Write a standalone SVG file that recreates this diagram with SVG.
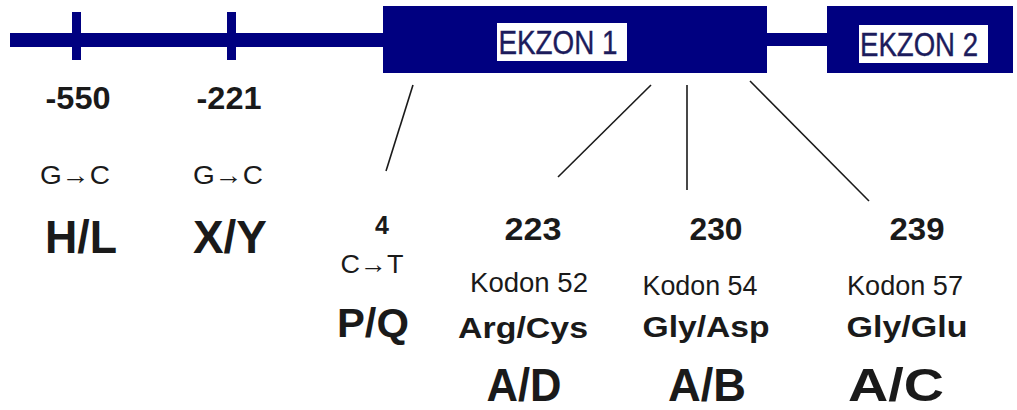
<svg xmlns="http://www.w3.org/2000/svg" width="1017" height="410" viewBox="0 0 1017 410">
  <style>
    .dna { fill: #000080; }
    .tag { fill: #ffffff; }
    .exon-label { font-family: "Liberation Sans", Arial, sans-serif; font-size: 34px; fill: #1c1c5c; stroke: #1c1c5c; stroke-width: 0.4; text-anchor: middle; }
    .t { font-family: "Liberation Sans", Arial, sans-serif; fill: #1a1a1a; text-anchor: middle; }
    .pos { font-size: 31px; font-weight: bold; }
    .subst { font-size: 26px; }
    .allele { font-size: 46px; font-weight: bold; }
    .codon { font-size: 27px; }
    .aa { font-size: 29px; font-weight: bold; }
    .big { font-size: 47px; font-weight: bold; }
    .link { stroke: #1a1a1a; stroke-width: 1.6; fill: none; }
  </style>

  <rect width="1017" height="410" fill="#ffffff"/>

  <!-- gene backbone with promoter sites and exons -->
  <g id="gene">
    <rect class="dna" x="10" y="33" width="375" height="14"/>
    <rect class="dna" x="72" y="12" width="9" height="48"/>
    <rect class="dna" x="227" y="12" width="9" height="48"/>
    <rect class="dna" x="765" y="33" width="64" height="13"/>
  </g>

  <g id="exon1">
    <rect class="dna" x="383" y="6" width="384" height="67"/>
    <rect class="tag" x="497" y="23" width="130" height="38"/>
    <text class="exon-label" x="558" y="54" textLength="119" lengthAdjust="spacingAndGlyphs">EKZON 1</text>
  </g>

  <g id="exon2">
    <rect class="dna" x="827" y="6" width="186" height="67"/>
    <rect class="tag" x="859" y="25" width="129" height="38"/>
    <text class="exon-label" x="919" y="56" textLength="118" lengthAdjust="spacingAndGlyphs">EKZON 2</text>
  </g>

  <!-- leader lines from exon 1 to the coding variants -->
  <g id="connectors">
    <line class="link" x1="413" y1="85" x2="386" y2="171"/>
    <line class="link" x1="651" y1="85" x2="558" y2="177"/>
    <line class="link" x1="687" y1="85" x2="687" y2="190"/>
    <line class="link" x1="750" y1="81" x2="869" y2="201"/>
  </g>

  <!-- promoter variants -->
  <g id="variant-550">
    <text class="t pos" x="78" y="109" textLength="65" lengthAdjust="spacingAndGlyphs">-550</text>
    <text class="t subst" x="75" y="184" textLength="70" lengthAdjust="spacingAndGlyphs">G→C</text>
    <text class="t allele" x="81" y="253" textLength="72" lengthAdjust="spacingAndGlyphs">H/L</text>
  </g>

  <g id="variant-221">
    <text class="t pos" x="229" y="109" textLength="65" lengthAdjust="spacingAndGlyphs">-221</text>
    <text class="t subst" x="228" y="184" textLength="70" lengthAdjust="spacingAndGlyphs">G→C</text>
    <text class="t allele" x="230" y="253" textLength="74" lengthAdjust="spacingAndGlyphs">X/Y</text>
  </g>

  <!-- exon 1 variants -->
  <g id="variant-4">
    <text class="t" x="382" y="234" font-size="25" font-weight="bold">4</text>
    <text class="t" x="372" y="273" font-size="26" textLength="63" lengthAdjust="spacingAndGlyphs">C→T</text>
    <text class="t" x="373" y="337" font-size="41" font-weight="bold" textLength="72" lengthAdjust="spacingAndGlyphs">P/Q</text>
  </g>

  <g id="variant-223">
    <text class="t pos" x="533" y="240" textLength="57" lengthAdjust="spacingAndGlyphs">223</text>
    <text class="t codon" x="529" y="292" textLength="118" lengthAdjust="spacingAndGlyphs">Kodon 52</text>
    <text class="t aa" x="523" y="338" textLength="130" lengthAdjust="spacingAndGlyphs">Arg/Cys</text>
    <text class="t big" x="524" y="401" textLength="75" lengthAdjust="spacingAndGlyphs">A/D</text>
  </g>

  <g id="variant-230">
    <text class="t pos" x="716" y="240" textLength="53" lengthAdjust="spacingAndGlyphs">230</text>
    <text class="t codon" x="700" y="295" textLength="115" lengthAdjust="spacingAndGlyphs">Kodon 54</text>
    <text class="t aa" x="706" y="337" textLength="127" lengthAdjust="spacingAndGlyphs">Gly/Asp</text>
    <text class="t big" x="707" y="401" textLength="78" lengthAdjust="spacingAndGlyphs">A/B</text>
  </g>

  <g id="variant-239">
    <text class="t pos" x="917" y="240" textLength="55" lengthAdjust="spacingAndGlyphs">239</text>
    <text class="t codon" x="905" y="295" textLength="116" lengthAdjust="spacingAndGlyphs">Kodon 57</text>
    <text class="t aa" x="907" y="337" textLength="121" lengthAdjust="spacingAndGlyphs">Gly/Glu</text>
    <text class="t big" x="896" y="401" textLength="96" lengthAdjust="spacingAndGlyphs">A/C</text>
  </g>
</svg>
